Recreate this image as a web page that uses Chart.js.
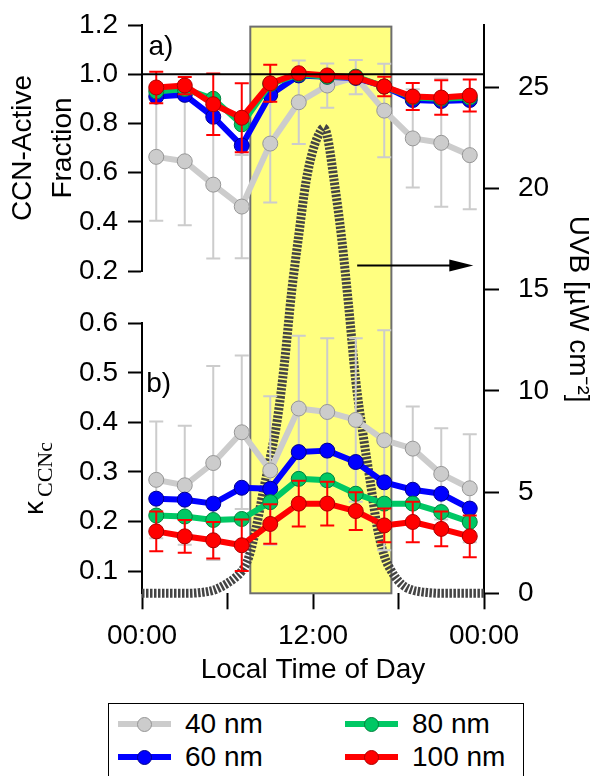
<!DOCTYPE html>
<html>
<head>
<meta charset="utf-8">
<script src="https://cdn.jsdelivr.net/npm/chart.js@4.4.0/dist/chart.umd.min.js"></script>
<style>
  body { margin: 0; background: #fff; overflow: hidden; }
  #wrap { position: relative; width: 606px; height: 776px; overflow: hidden; }
  #chart { position: absolute; left: 0; top: 0; }
  #legend {
    position: absolute; left: 108px; top: 703px; width: 416px; height: 95px;
    border: 1.5px solid #000; box-sizing: border-box;
    font: 28px 'Liberation Sans', Arial, sans-serif; color: #000;
  }
  .item { position: absolute; height: 30px; display: flex; align-items: center; white-space: nowrap; }
  .swatch { position: relative; width: 53px; height: 30px; margin-right: 14px; }
  .swatch .ln { position: absolute; left: 0; right: 0; top: 12px; height: 6px; }
  .swatch .pt {
    position: absolute; left: 19px; top: 7.5px; width: 15px; height: 15px;
    border-radius: 50%; box-sizing: border-box; border: 1px solid;
  }
</style>
</head>
<body>
<div id="wrap">
  <canvas id="chart" width="606" height="700"></canvas>
  <div id="legend"></div>
</div>
<script>
// sampling times (local hour of day)
const hours = [1, 3, 5, 7, 9, 11, 13, 15, 17, 19, 21, 23];

// a) CCN-active fraction
const frac40 = [0.664, 0.646, 0.551, 0.462, 0.718, 0.886, 0.954, 0.988, 0.852, 0.739, 0.721, 0.671];
const frac40Err = [0.26, 0.26, 0.30, 0.21, 0.24, 0.17, 0.09, 0.07, 0.19, 0.20, 0.26, 0.22];
const frac60 = [0.909, 0.916, 0.827, 0.710, 0.916, 0.995, 0.990, 0.985, 0.950, 0.895, 0.891, 0.895];
const frac80 = [0.930, 0.940, 0.900, 0.796, 0.960, 1.000, 0.990, 0.990, 0.950, 0.905, 0.900, 0.905];
const frac100 = [0.946, 0.954, 0.878, 0.823, 0.963, 1.004, 0.995, 0.987, 0.950, 0.909, 0.905, 0.913];
const frac100Err = [0.064, 0.035, 0.125, 0.14, 0.075, 0.01, 0.01, 0.01, 0.04, 0.055, 0.07, 0.065];

// b) kappa from CCNc
const kappa40 = [0.284, 0.273, 0.318, 0.380, 0.303, 0.428, 0.421, 0.405, 0.364, 0.347, 0.296, 0.267];
const kappa40Err = [0.118, 0.12, 0.196, 0.155, 0.15, 0.147, 0.149, 0.165, 0.222, 0.085, 0.092, 0.109];
const kappa60 = [0.246, 0.244, 0.236, 0.268, 0.266, 0.340, 0.343, 0.320, 0.279, 0.264, 0.256, 0.226];
const kappa80 = [0.212, 0.210, 0.203, 0.205, 0.239, 0.286, 0.283, 0.256, 0.236, 0.236, 0.219, 0.199];
const kappa100 = [0.180, 0.170, 0.162, 0.152, 0.195, 0.236, 0.236, 0.221, 0.192, 0.199, 0.185, 0.170];
const kappa100Err = [0.04, 0.033, 0.037, 0.052, 0.04, 0.046, 0.044, 0.038, 0.034, 0.041, 0.035, 0.042];

// UVB diurnal profile
const uvbHours = [0, 1, 2, 3, 4, 5, 5.5, 6, 6.5, 7, 7.5, 8, 8.5, 9, 9.5, 10, 10.5, 11, 11.5, 12, 12.5, 12.75,
  13, 13.5, 14, 14.5, 15, 15.5, 16, 16.5, 17, 17.5, 18, 18.5, 19, 19.5, 20, 21, 22, 23, 24];
const uvbValues = [0, 0, 0, 0, 0.03, 0.15, 0.3, 0.5, 0.75, 1.1, 1.8, 3.2, 5.0, 6.7, 8.6, 11.4, 14.9, 17.7, 20.3, 21.9, 22.8, 23.0,
  22.6, 20.3, 17.6, 14.2, 10.5, 7.9, 5.6, 3.3, 1.85, 1.1, 0.6, 0.3, 0.15, 0.08, 0.04, 0, 0, 0, 0];

// daylight window shaded in yellow
const sunHours = [7.6, 17.5];

// axis ticks
const hourTicks = [0, 6, 12, 18, 24];
const hourLabels = ['00:00', '', '12:00', '', '00:00'];
const fracTicks = [0.2, 0.4, 0.6, 0.8, 1.0, 1.2];
const kappaTicks = [0.1, 0.2, 0.3, 0.4, 0.5, 0.6];
const uvbTicks = [0, 5, 10, 15, 20, 25];

const legendOrder = ['40 nm', '80 nm', '60 nm', '100 nm'];

const styles = {
    '40 nm': { line: 'rgb(204,204,204)', edge: 'rgb(150,150,150)', err: 'rgb(204,204,204)', order: 4 },
    '60 nm': { line: 'rgb(0,0,255)', edge: 'rgb(0,0,140)', err: null, order: 3 },
    '80 nm': { line: 'rgb(0,200,100)', edge: 'rgb(0,130,60)', err: null, order: 2 },
    '100 nm': { line: 'rgb(255,0,0)', edge: 'rgb(170,0,0)', err: 'rgb(255,0,0)', order: 1 }
};

const FONT = "'Liberation Sans', Arial, sans-serif";
Chart.defaults.font.family = FONT;
Chart.defaults.font.size = 28;
Chart.defaults.color = '#000';

function series(label, values, axis, errors) {
    const s = styles[label];
    return {
        label: label,
        data: hours.map((h, i) => ({ x: h, y: values[i] })),
        yAxisID: axis,
        borderColor: s.line,
        backgroundColor: s.line,
        pointBackgroundColor: s.line,
        pointBorderColor: s.edge,
        pointBorderWidth: 1,
        pointRadius: 7.5,
        borderWidth: 6,
        borderJoinStyle: 'round',
        order: s.order,
        errors: errors || null,
        errorColor: s.err
    };
}

function fixTicks(values) {
    return function (scale) {
        scale.ticks = values.map(v => ({ value: v }));
    };
}

// fixed box sizes, and no extra padding for the end labels
function fixSize(w, h) {
    return function (s) {
        if (w) s.width = w;
        if (h) s.height = h;
        s.paddingTop = 0;
        s.paddingBottom = 0;
        s.paddingLeft = 0;
        s.paddingRight = 0;
    };
}

const tickGrid = (len) => ({
    drawOnChartArea: false,
    drawTicks: true,
    tickLength: len,
    tickColor: '#000',
    tickWidth: 2
});

const errorBars = {
    id: 'errorBars',
    beforeDatasetDraw(chart, args) {
        const ds = chart.data.datasets[args.index];
        if (!ds.errors) return;
        const ctx = chart.ctx;
        const xs = chart.scales.x;
        const ys = chart.scales[ds.yAxisID];
        ctx.save();
        ctx.strokeStyle = ds.errorColor;
        ctx.lineWidth = 2;
        ctx.beginPath();
        ds.data.forEach((p, i) => {
            const e = ds.errors[i];
            const px = xs.getPixelForValue(p.x);
            const top = ys.getPixelForValue(p.y + e);
            const bot = ys.getPixelForValue(p.y - e);
            ctx.moveTo(px, top); ctx.lineTo(px, bot);
            ctx.moveTo(px - 7, top); ctx.lineTo(px + 7, top);
            ctx.moveTo(px - 7, bot); ctx.lineTo(px + 7, bot);
        });
        ctx.stroke();
        ctx.restore();
    }
};

const daylight = {
    id: 'daylight',
    beforeDatasetsDraw(chart) {
        const { ctx, scales: { x, y2 } } = chart;
        const l = x.getPixelForValue(sunHours[0]);
        const r = x.getPixelForValue(sunHours[1]);
        const t = y2.getPixelForValue(28);
        const b = y2.getPixelForValue(0);
        ctx.save();
        ctx.fillStyle = 'rgb(255,255,128)';
        ctx.fillRect(l, t, r - l, b - t);
        ctx.strokeStyle = 'rgb(110,110,110)';
        ctx.lineWidth = 2;
        ctx.strokeRect(l, t, r - l, b - t);
        ctx.restore();
    }
};

const notes = {
    id: 'notes',
    afterDatasetsDraw(chart) {
        const { ctx, scales: { x, yA, yB, y2 } } = chart;
        ctx.save();
        ctx.fillStyle = '#000';
        ctx.font = '28px ' + FONT;
        ctx.textBaseline = 'alphabetic';
        ctx.fillText('a)', x.getPixelForValue(0.45), yA.getPixelForValue(1.08));
        ctx.fillText('b)', x.getPixelForValue(0.3), yB.getPixelForValue(0.462));

        // arrow pointing to the UVB axis
        const ay = y2.getPixelForValue(16.2);
        const x0 = x.getPixelForValue(15.1);
        const x1 = x.getPixelForValue(23.25);
        ctx.strokeStyle = '#000';
        ctx.lineWidth = 2;
        ctx.beginPath();
        ctx.moveTo(x0, ay);
        ctx.lineTo(x1 - 20, ay);
        ctx.stroke();
        ctx.beginPath();
        ctx.moveTo(x1, ay);
        ctx.lineTo(x1 - 24, ay - 6);
        ctx.lineTo(x1 - 24, ay + 6);
        ctx.closePath();
        ctx.fill();
        ctx.restore();
    },
    afterDraw(chart) {
        // kappa_CCNc axis title with serif subscript
        const { ctx, scales: { yB } } = chart;
        ctx.save();
        ctx.fillStyle = '#000';
        ctx.translate(yB.left + 43, yB.getPixelForValue(0.213));
        ctx.rotate(-Math.PI / 2);
        ctx.font = '28px ' + FONT;
        ctx.fillText('\u03ba', 0, 0);
        const w = ctx.measureText('\u03ba').width;
        ctx.font = "22px 'Liberation Serif', 'Times New Roman', serif";
        ctx.fillText('CCNc', w + 4, 9);
        ctx.restore();
    }
};

const datasets = [
    {
        label: 'ref',
        data: [{ x: 0, y: 1.0 }, { x: 24, y: 1.0 }],
        yAxisID: 'yA',
        borderColor: '#000',
        borderWidth: 2,
        pointRadius: 0,
        order: 0
    },
    series('40 nm', frac40, 'yA', frac40Err),
    series('60 nm', frac60, 'yA', null),
    series('80 nm', frac80, 'yA', null),
    series('100 nm', frac100, 'yA', frac100Err),
    series('40 nm', kappa40, 'yB', kappa40Err),
    series('60 nm', kappa60, 'yB', null),
    series('80 nm', kappa80, 'yB', null),
    series('100 nm', kappa100, 'yB', kappa100Err),
    {
        label: 'UVB',
        data: uvbHours.map((h, i) => ({ x: h, y: uvbValues[i] })),
        yAxisID: 'y2',
        borderColor: 'rgb(68,68,68)',
        borderWidth: 9,
        borderDash: [2.5, 1.5],
        pointRadius: 0,
        cubicInterpolationMode: 'monotone',
        clip: 10,
        order: 10
    }
];

const config = {
    type: 'line',
    data: { datasets: datasets },
    options: {
        responsive: false,
        animation: false,
        events: [],
        layout: { padding: { top: 25, left: 0, right: 0, bottom: 0 } },
        plugins: {
            legend: { display: false },
            tooltip: { enabled: false }
        },
        scales: {
            x: {
                type: 'linear',
                position: 'bottom',
                min: 0,
                max: 24,
                afterBuildTicks: fixTicks(hourTicks),
                afterFit: fixSize(0, 106.7),
                border: { display: false },
                grid: tickGrid(16),
                ticks: {
                    autoSkip: false,
                    maxRotation: 0,
                    padding: 10,
                    callback: (v, i) => hourLabels[i]
                },
                title: { display: true, text: 'Local Time of Day', padding: { top: 0, bottom: 13 } }
            },
            yB: {
                type: 'linear',
                position: 'left',
                stack: 'left',
                stackWeight: 270,
                weight: 1,
                min: 0.055,
                max: 0.6,
                afterBuildTicks: fixTicks(kappaTicks),
                afterFit: fixSize(142, 0),
                border: { display: true, color: '#000', width: 2 },
                grid: tickGrid(14),
                ticks: { autoSkip: false, padding: 10, callback: v => v.toFixed(1) }
            },
            yGap: {
                type: 'linear',
                position: 'left',
                stack: 'left',
                stackWeight: 52.3,
                weight: 2,
                min: 0,
                max: 1,
                afterFit: fixSize(142, 0),
                border: { display: false },
                grid: { display: false },
                ticks: { display: false }
            },
            yA: {
                type: 'linear',
                position: 'left',
                stack: 'left',
                stackWeight: 246,
                weight: 3,
                min: 0.2,
                max: 1.2,
                afterBuildTicks: fixTicks(fracTicks),
                afterFit: fixSize(142, 0),
                border: { display: true, color: '#000', width: 2 },
                grid: tickGrid(14),
                ticks: { autoSkip: false, padding: 10, callback: v => v.toFixed(1) },
                title: {
                    display: true,
                    text: ['CCN-Active', 'Fraction'],
                    font: { size: 28, lineHeight: 1.4 },
                    padding: { top: 4, bottom: 0 }
                }
            },
            y2: {
                type: 'linear',
                position: 'right',
                min: 0,
                max: 28.08,
                afterBuildTicks: fixTicks(uvbTicks),
                afterFit: fixSize(122, 0),
                border: { display: true, color: '#000', width: 2 },
                grid: tickGrid(15),
                ticks: { autoSkip: false, padding: 19 },
                title: {
                    display: true,
                    text: 'UVB [\u00b5W cm\u207b\u00b2]',
                    padding: { top: 11, bottom: 0 }
                }
            }
        }
    },
    plugins: [daylight, errorBars, notes]
};

const chart = new Chart(document.getElementById('chart'), config);

// legend laid out in two columns like the original
const legendBox = document.getElementById('legend');
legendOrder.forEach((name, k) => {
    const s = styles[name];
    const item = document.createElement('div');
    item.className = 'item';
    item.style.left = (k % 2 ? 236 : 9) + 'px';
    item.style.top = (k < 2 ? 5 : 38) + 'px';
    item.innerHTML = '<div class="swatch"><div class="ln" style="background:' + s.line + '"></div>' +
        '<div class="pt" style="background:' + s.line + ';border-color:' + s.edge + '"></div></div>' +
        '<span>' + name + '</span>';
    legendBox.appendChild(item);
});
</script>
</body>
</html>
